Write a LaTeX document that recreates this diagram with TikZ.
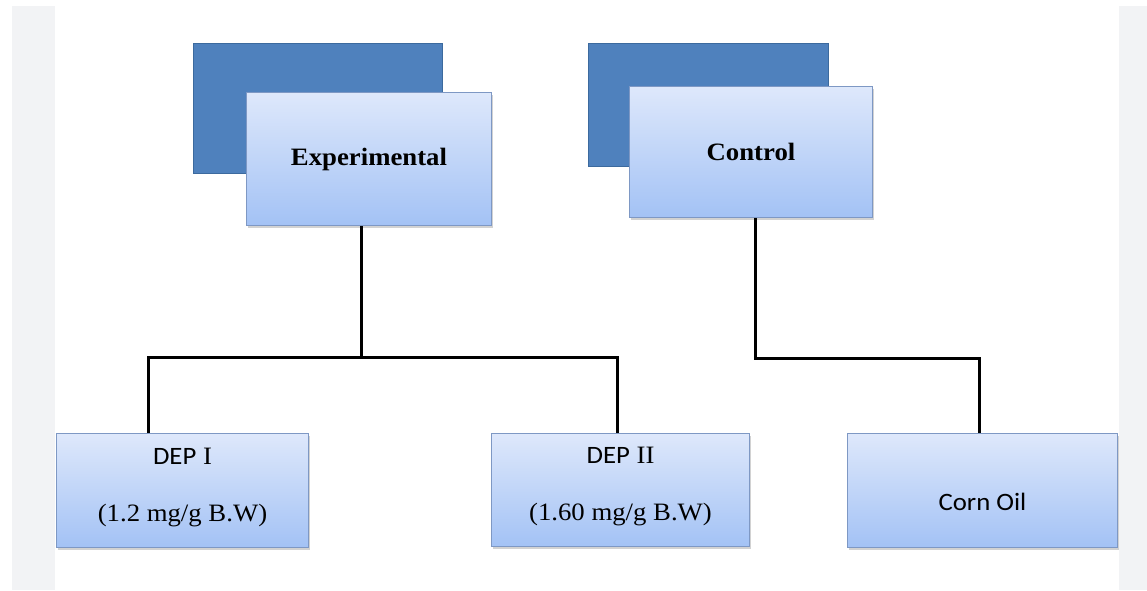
\documentclass[tikz,border=0pt]{standalone}
\usepackage{fontspec}
\setmainfont[FakeStretch=1.07]{Liberation Serif}
\newfontfamily\calibri[FakeStretch=1.07]{Carlito}
\usetikzlibrary{shadows}
\definecolor{darkblue}{HTML}{4F81BD}
\definecolor{edgeblue}{HTML}{3C6A9E}
\definecolor{topblue}{HTML}{DEE8FB}
\definecolor{botblue}{HTML}{A3C2F5}
\definecolor{paneblue}{HTML}{7E98C4}
\definecolor{sidegrey}{HTML}{F2F3F5}
\begin{document}
\begin{tikzpicture}[x=1pt,y=-1pt,font=\fontsize{25}{29}\selectfont,
		backbox/.style={draw=edgeblue,line width=1pt,fill=darkblue,anchor=north west,inner sep=0pt},
		frontbox/.style={draw=paneblue,line width=1pt,top color=topblue,bottom color=botblue,anchor=north west,inner sep=0pt,
			drop shadow={shadow xshift=1.5pt,shadow yshift=-2pt,opacity=0.35}},
		link/.style={line width=3pt}]
	\useasboundingbox (0,0) rectangle (1147,590);
	\fill[white] (0,0) rectangle (1147,590);
	\fill[sidegrey] (12,6) rectangle (55,590);
	\fill[sidegrey] (1119,6) rectangle (1147,590);
	% groups
	\node[backbox,minimum width=249pt,minimum height=130pt] (expback) at (193,43) {};
	\node[frontbox,minimum width=245pt,minimum height=133pt] (expbox) at (246,92) {\textbf{Experimental}};
	\node[backbox,minimum width=240pt,minimum height=123pt] (ctrlback) at (588,43) {};
	\node[frontbox,minimum width=243pt,minimum height=131pt] (ctrlbox) at (629,86) {\textbf{Control}};
	% doses
	\node[frontbox,minimum width=252pt,minimum height=114pt,align=center,text depth=12pt] (dep1) at (56,433) {{\calibri DEP} I\\[28pt](1.2 mg/g B.W)};
	\node[frontbox,minimum width=258pt,minimum height=113pt,align=center,text depth=12pt] (dep2) at (491,433) {{\calibri DEP} II\\[28pt](1.60 mg/g B.W)};
	\node[frontbox,minimum width=270pt,minimum height=114pt,text height=40pt] (corn) at (847,433) {\calibri Corn Oil};
	% links
	\coordinate (expjoin) at (361,357);
	\coordinate (ctrljoin) at (755,358);
	\coordinate (leftdrop) at (148,357);
	\coordinate (rightdrop) at (617,357);
	\coordinate (corndrop) at (979,358);
	\draw[link] (expjoin |- expbox.south) -- (expjoin);
	\draw[link] (leftdrop |- dep1.north) -- (leftdrop) -- (rightdrop) -- (rightdrop |- dep2.north);
	\draw[link] (ctrljoin |- ctrlbox.south) -- (ctrljoin) -- (corndrop) -- (corndrop |- corn.north);
\end{tikzpicture}
\end{document}
